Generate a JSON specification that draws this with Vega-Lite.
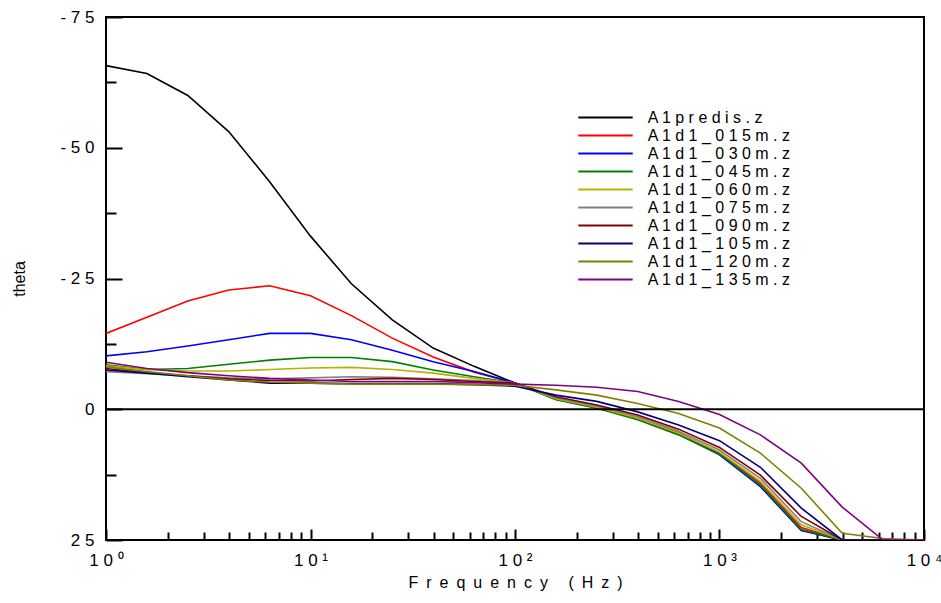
{
"$schema": "https://vega.github.io/schema/vega-lite/v6.json",
"width": 818, "height": 523,
"autosize": "none",
"padding": {"left": 106, "top": 17, "right": 17, "bottom": 63},
"background": "white",
"config": {"view": {"stroke": "black", "strokeWidth": 2}, "font": "Liberation Sans"},
"layer": [
{
"data": {"values": [
{"f":1,"v":-65.7,"s":"A1predis.z"},{"f":1.585,"v":-64.2,"s":"A1predis.z"},{"f":2.512,"v":-60.0,"s":"A1predis.z"},{"f":3.981,"v":-53.1,"s":"A1predis.z"},{"f":6.31,"v":-43.5,"s":"A1predis.z"},{"f":10,"v":-33.1,"s":"A1predis.z"},{"f":15.85,"v":-24.0,"s":"A1predis.z"},{"f":25.12,"v":-17.1,"s":"A1predis.z"},{"f":39.81,"v":-11.7,"s":"A1predis.z"},{"f":63.1,"v":-8.2,"s":"A1predis.z"},{"f":100,"v":-5.0,"s":"A1predis.z"},{"f":158.5,"v":-2.0,"s":"A1predis.z"},{"f":251.2,"v":-0.3,"s":"A1predis.z"},{"f":398.1,"v":1.8,"s":"A1predis.z"},{"f":631,"v":4.7,"s":"A1predis.z"},{"f":1000,"v":8.6,"s":"A1predis.z"},{"f":1585,"v":14.6,"s":"A1predis.z"},{"f":2512,"v":23.1,"s":"A1predis.z"},{"f":3981,"v":25,"s":"A1predis.z"},{"f":6310,"v":25,"s":"A1predis.z"},{"f":10000,"v":25,"s":"A1predis.z"},
{"f":1,"v":-14.5,"s":"A1d1_015m.z"},{"f":1.585,"v":-17.6,"s":"A1d1_015m.z"},{"f":2.512,"v":-20.7,"s":"A1d1_015m.z"},{"f":3.981,"v":-22.8,"s":"A1d1_015m.z"},{"f":6.31,"v":-23.6,"s":"A1d1_015m.z"},{"f":10,"v":-21.7,"s":"A1d1_015m.z"},{"f":15.85,"v":-17.9,"s":"A1d1_015m.z"},{"f":25.12,"v":-13.6,"s":"A1d1_015m.z"},{"f":39.81,"v":-10.0,"s":"A1d1_015m.z"},{"f":63.1,"v":-7.1,"s":"A1d1_015m.z"},{"f":100,"v":-5.0,"s":"A1d1_015m.z"},{"f":158.5,"v":-2.0,"s":"A1d1_015m.z"},{"f":251.2,"v":-0.4,"s":"A1d1_015m.z"},{"f":398.1,"v":1.7,"s":"A1d1_015m.z"},{"f":631,"v":4.5,"s":"A1d1_015m.z"},{"f":1000,"v":8.4,"s":"A1d1_015m.z"},{"f":1585,"v":14.1,"s":"A1d1_015m.z"},{"f":2512,"v":22.6,"s":"A1d1_015m.z"},{"f":3981,"v":25,"s":"A1d1_015m.z"},{"f":6310,"v":25,"s":"A1d1_015m.z"},{"f":10000,"v":25,"s":"A1d1_015m.z"},
{"f":1,"v":-10.2,"s":"A1d1_030m.z"},{"f":1.585,"v":-11.0,"s":"A1d1_030m.z"},{"f":2.512,"v":-12.1,"s":"A1d1_030m.z"},{"f":3.981,"v":-13.3,"s":"A1d1_030m.z"},{"f":6.31,"v":-14.5,"s":"A1d1_030m.z"},{"f":10,"v":-14.5,"s":"A1d1_030m.z"},{"f":15.85,"v":-13.3,"s":"A1d1_030m.z"},{"f":25.12,"v":-11.3,"s":"A1d1_030m.z"},{"f":39.81,"v":-9.1,"s":"A1d1_030m.z"},{"f":63.1,"v":-7.2,"s":"A1d1_030m.z"},{"f":100,"v":-5.0,"s":"A1d1_030m.z"},{"f":158.5,"v":-1.9,"s":"A1d1_030m.z"},{"f":251.2,"v":-0.3,"s":"A1d1_030m.z"},{"f":398.1,"v":1.8,"s":"A1d1_030m.z"},{"f":631,"v":4.8,"s":"A1d1_030m.z"},{"f":1000,"v":8.7,"s":"A1d1_030m.z"},{"f":1585,"v":14.8,"s":"A1d1_030m.z"},{"f":2512,"v":23.2,"s":"A1d1_030m.z"},{"f":3981,"v":25,"s":"A1d1_030m.z"},{"f":6310,"v":25,"s":"A1d1_030m.z"},{"f":10000,"v":25,"s":"A1d1_030m.z"},
{"f":1,"v":-8.5,"s":"A1d1_045m.z"},{"f":1.585,"v":-7.6,"s":"A1d1_045m.z"},{"f":2.512,"v":-7.8,"s":"A1d1_045m.z"},{"f":3.981,"v":-8.6,"s":"A1d1_045m.z"},{"f":6.31,"v":-9.4,"s":"A1d1_045m.z"},{"f":10,"v":-9.9,"s":"A1d1_045m.z"},{"f":15.85,"v":-9.9,"s":"A1d1_045m.z"},{"f":25.12,"v":-9.1,"s":"A1d1_045m.z"},{"f":39.81,"v":-7.5,"s":"A1d1_045m.z"},{"f":63.1,"v":-6.2,"s":"A1d1_045m.z"},{"f":100,"v":-5.0,"s":"A1d1_045m.z"},{"f":158.5,"v":-1.8,"s":"A1d1_045m.z"},{"f":251.2,"v":-0.2,"s":"A1d1_045m.z"},{"f":398.1,"v":2.0,"s":"A1d1_045m.z"},{"f":631,"v":4.9,"s":"A1d1_045m.z"},{"f":1000,"v":8.6,"s":"A1d1_045m.z"},{"f":1585,"v":14.5,"s":"A1d1_045m.z"},{"f":2512,"v":23.0,"s":"A1d1_045m.z"},{"f":3981,"v":25,"s":"A1d1_045m.z"},{"f":6310,"v":25,"s":"A1d1_045m.z"},{"f":10000,"v":25,"s":"A1d1_045m.z"},
{"f":1,"v":-8.3,"s":"A1d1_060m.z"},{"f":1.585,"v":-7.6,"s":"A1d1_060m.z"},{"f":2.512,"v":-7.3,"s":"A1d1_060m.z"},{"f":3.981,"v":-7.3,"s":"A1d1_060m.z"},{"f":6.31,"v":-7.6,"s":"A1d1_060m.z"},{"f":10,"v":-7.9,"s":"A1d1_060m.z"},{"f":15.85,"v":-8.0,"s":"A1d1_060m.z"},{"f":25.12,"v":-7.6,"s":"A1d1_060m.z"},{"f":39.81,"v":-6.9,"s":"A1d1_060m.z"},{"f":63.1,"v":-5.9,"s":"A1d1_060m.z"},{"f":100,"v":-5.0,"s":"A1d1_060m.z"},{"f":158.5,"v":-2.0,"s":"A1d1_060m.z"},{"f":251.2,"v":-0.4,"s":"A1d1_060m.z"},{"f":398.1,"v":1.7,"s":"A1d1_060m.z"},{"f":631,"v":4.6,"s":"A1d1_060m.z"},{"f":1000,"v":8.2,"s":"A1d1_060m.z"},{"f":1585,"v":13.8,"s":"A1d1_060m.z"},{"f":2512,"v":22.1,"s":"A1d1_060m.z"},{"f":3981,"v":25,"s":"A1d1_060m.z"},{"f":6310,"v":25,"s":"A1d1_060m.z"},{"f":10000,"v":25,"s":"A1d1_060m.z"},
{"f":1,"v":-7.2,"s":"A1d1_075m.z"},{"f":1.585,"v":-6.8,"s":"A1d1_075m.z"},{"f":2.512,"v":-6.4,"s":"A1d1_075m.z"},{"f":3.981,"v":-6.0,"s":"A1d1_075m.z"},{"f":6.31,"v":-5.8,"s":"A1d1_075m.z"},{"f":10,"v":-6.0,"s":"A1d1_075m.z"},{"f":15.85,"v":-6.2,"s":"A1d1_075m.z"},{"f":25.12,"v":-6.1,"s":"A1d1_075m.z"},{"f":39.81,"v":-5.8,"s":"A1d1_075m.z"},{"f":63.1,"v":-5.5,"s":"A1d1_075m.z"},{"f":100,"v":-5.0,"s":"A1d1_075m.z"},{"f":158.5,"v":-2.2,"s":"A1d1_075m.z"},{"f":251.2,"v":-0.6,"s":"A1d1_075m.z"},{"f":398.1,"v":1.4,"s":"A1d1_075m.z"},{"f":631,"v":4.2,"s":"A1d1_075m.z"},{"f":1000,"v":7.8,"s":"A1d1_075m.z"},{"f":1585,"v":13.2,"s":"A1d1_075m.z"},{"f":2512,"v":21.5,"s":"A1d1_075m.z"},{"f":3981,"v":25,"s":"A1d1_075m.z"},{"f":6310,"v":25,"s":"A1d1_075m.z"},{"f":10000,"v":25,"s":"A1d1_075m.z"},
{"f":1,"v":-7.8,"s":"A1d1_090m.z"},{"f":1.585,"v":-7.0,"s":"A1d1_090m.z"},{"f":2.512,"v":-6.4,"s":"A1d1_090m.z"},{"f":3.981,"v":-5.8,"s":"A1d1_090m.z"},{"f":6.31,"v":-5.5,"s":"A1d1_090m.z"},{"f":10,"v":-5.4,"s":"A1d1_090m.z"},{"f":15.85,"v":-5.7,"s":"A1d1_090m.z"},{"f":25.12,"v":-5.9,"s":"A1d1_090m.z"},{"f":39.81,"v":-5.7,"s":"A1d1_090m.z"},{"f":63.1,"v":-5.3,"s":"A1d1_090m.z"},{"f":100,"v":-5.0,"s":"A1d1_090m.z"},{"f":158.5,"v":-2.4,"s":"A1d1_090m.z"},{"f":251.2,"v":-0.8,"s":"A1d1_090m.z"},{"f":398.1,"v":1.1,"s":"A1d1_090m.z"},{"f":631,"v":3.8,"s":"A1d1_090m.z"},{"f":1000,"v":7.3,"s":"A1d1_090m.z"},{"f":1585,"v":12.6,"s":"A1d1_090m.z"},{"f":2512,"v":20.5,"s":"A1d1_090m.z"},{"f":3981,"v":25,"s":"A1d1_090m.z"},{"f":6310,"v":25,"s":"A1d1_090m.z"},{"f":10000,"v":25,"s":"A1d1_090m.z"},
{"f":1,"v":-7.5,"s":"A1d1_105m.z"},{"f":1.585,"v":-6.9,"s":"A1d1_105m.z"},{"f":2.512,"v":-6.2,"s":"A1d1_105m.z"},{"f":3.981,"v":-5.6,"s":"A1d1_105m.z"},{"f":6.31,"v":-5.0,"s":"A1d1_105m.z"},{"f":10,"v":-5.0,"s":"A1d1_105m.z"},{"f":15.85,"v":-4.9,"s":"A1d1_105m.z"},{"f":25.12,"v":-4.9,"s":"A1d1_105m.z"},{"f":39.81,"v":-4.9,"s":"A1d1_105m.z"},{"f":63.1,"v":-4.7,"s":"A1d1_105m.z"},{"f":100,"v":-4.4,"s":"A1d1_105m.z"},{"f":158.5,"v":-2.7,"s":"A1d1_105m.z"},{"f":251.2,"v":-1.5,"s":"A1d1_105m.z"},{"f":398.1,"v":0.5,"s":"A1d1_105m.z"},{"f":631,"v":3.0,"s":"A1d1_105m.z"},{"f":1000,"v":6.0,"s":"A1d1_105m.z"},{"f":1585,"v":11.1,"s":"A1d1_105m.z"},{"f":2512,"v":18.9,"s":"A1d1_105m.z"},{"f":3981,"v":25,"s":"A1d1_105m.z"},{"f":6310,"v":25,"s":"A1d1_105m.z"},{"f":10000,"v":25,"s":"A1d1_105m.z"},
{"f":1,"v":-8.1,"s":"A1d1_120m.z"},{"f":1.585,"v":-7.2,"s":"A1d1_120m.z"},{"f":2.512,"v":-6.4,"s":"A1d1_120m.z"},{"f":3.981,"v":-5.6,"s":"A1d1_120m.z"},{"f":6.31,"v":-5.2,"s":"A1d1_120m.z"},{"f":10,"v":-5.0,"s":"A1d1_120m.z"},{"f":15.85,"v":-4.8,"s":"A1d1_120m.z"},{"f":25.12,"v":-4.8,"s":"A1d1_120m.z"},{"f":39.81,"v":-4.8,"s":"A1d1_120m.z"},{"f":63.1,"v":-4.7,"s":"A1d1_120m.z"},{"f":100,"v":-4.6,"s":"A1d1_120m.z"},{"f":158.5,"v":-3.7,"s":"A1d1_120m.z"},{"f":251.2,"v":-2.7,"s":"A1d1_120m.z"},{"f":398.1,"v":-1.1,"s":"A1d1_120m.z"},{"f":631,"v":0.8,"s":"A1d1_120m.z"},{"f":1000,"v":3.6,"s":"A1d1_120m.z"},{"f":1585,"v":8.4,"s":"A1d1_120m.z"},{"f":2512,"v":15.1,"s":"A1d1_120m.z"},{"f":3981,"v":23.7,"s":"A1d1_120m.z"},{"f":6310,"v":24.7,"s":"A1d1_120m.z"},{"f":10000,"v":25,"s":"A1d1_120m.z"},
{"f":1,"v":-9.0,"s":"A1d1_135m.z"},{"f":1.585,"v":-7.8,"s":"A1d1_135m.z"},{"f":2.512,"v":-7.0,"s":"A1d1_135m.z"},{"f":3.981,"v":-6.4,"s":"A1d1_135m.z"},{"f":6.31,"v":-5.9,"s":"A1d1_135m.z"},{"f":10,"v":-5.6,"s":"A1d1_135m.z"},{"f":15.85,"v":-5.3,"s":"A1d1_135m.z"},{"f":25.12,"v":-5.3,"s":"A1d1_135m.z"},{"f":39.81,"v":-5.3,"s":"A1d1_135m.z"},{"f":63.1,"v":-5.1,"s":"A1d1_135m.z"},{"f":100,"v":-4.8,"s":"A1d1_135m.z"},{"f":158.5,"v":-4.6,"s":"A1d1_135m.z"},{"f":251.2,"v":-4.2,"s":"A1d1_135m.z"},{"f":398.1,"v":-3.4,"s":"A1d1_135m.z"},{"f":631,"v":-1.5,"s":"A1d1_135m.z"},{"f":1000,"v":1.0,"s":"A1d1_135m.z"},{"f":1585,"v":4.9,"s":"A1d1_135m.z"},{"f":2512,"v":10.3,"s":"A1d1_135m.z"},{"f":3981,"v":18.7,"s":"A1d1_135m.z"},{"f":6310,"v":25,"s":"A1d1_135m.z"},{"f":10000,"v":25,"s":"A1d1_135m.z"}
]},
"mark": {"type": "line", "strokeWidth": 1.6, "clip": true},
"encoding": {
"x": {"field": "f", "type": "quantitative", "title": "F\u2002r\u2002e\u2002q\u2002u\u2002e\u2002n\u2002c\u2002y\u2002 \u2002(\u2002H\u2002z\u2002)",
 "scale": {"type": "log", "domain": [1, 10000], "nice": false},
 "axis": {"values": [1,2,3,4,5,6,7,8,9,10,20,30,40,50,60,70,80,90,100,200,300,400,500,600,700,800,900,1000,2000,3000,4000,5000,6000,7000,8000,9000,10000],
  "domain": false, "grid": false, "tickColor": "black", "tickWidth": 2,
  "tickSize": {"condition": {"test": "indexof([1,10,100,1000,10000], datum.value) >= 0", "value": -11}, "value": -8},
  "labelExpr": "datum.value == 1 ? '1 0 ⁰' : datum.value == 10 ? '1 0 ¹' : datum.value == 100 ? '1 0 ²' : datum.value == 1000 ? '1 0 ³' : datum.value == 10000 ? '1 0 ⁴' : ''",
  "labelOverlap": false, "labelFlush": false, "labelBound": false,
  "labelFontSize": 17, "labelColor": "black", "labelPadding": 23,
  "titleFontSize": 16, "titleFontWeight": "normal", "titleColor": "black", "titlePadding": 3}},
"y": {"field": "v", "type": "quantitative", "title": "theta",
 "scale": {"domain": [-75, 25], "reverse": true, "nice": false, "zero": false},
 "axis": {"values": [-75,-62.5,-50,-37.5,-25,-12.5,0,12.5,25],
  "domain": false, "grid": false, "tickColor": "black", "tickWidth": 2,
  "tickSize": {"condition": {"test": "datum.value % 25 == 0", "value": -16}, "value": -10},
  "labelExpr": "datum.value % 25 == 0 ? join(split(toString(datum.value), ''), ' ') : ''",
  "labelOverlap": false, "labelFlush": false, "labelBound": false,
  "labelFontSize": 17, "labelColor": "black", "labelPadding": 28,
  "titleFontSize": 16, "titleFontWeight": "normal", "titleColor": "black", "titlePadding": 32}},
"color": {"field": "s", "type": "nominal",
 "scale": {"domain": ["A1predis.z","A1d1_015m.z","A1d1_030m.z","A1d1_045m.z","A1d1_060m.z","A1d1_075m.z","A1d1_090m.z","A1d1_105m.z","A1d1_120m.z","A1d1_135m.z"],
  "range": ["#000000","#ff0000","#0000ff","#008000","#b3b300","#808080","#800000","#000080","#808000","#800080"]},
 "legend": {"orient": "none", "legendX": 490, "legendY": 91, "title": null, "padding": 0,
  "symbolType": "M-3.2,0H3.2", "symbolSize": 289, "symbolStrokeWidth": 2,
  "labelFontSize": 16, "labelColor": "black", "labelOffset": 32.7, "rowPadding": -1.5, "labelLimit": 400,
  "labelExpr": "join(split(datum.label, ''), ' ')"}}
}
},
{
"data": {"values": [{}]},
"mark": {"type": "rule", "color": "black", "strokeWidth": 2},
"encoding": {"y": {"datum": 0}}
}
]
}
